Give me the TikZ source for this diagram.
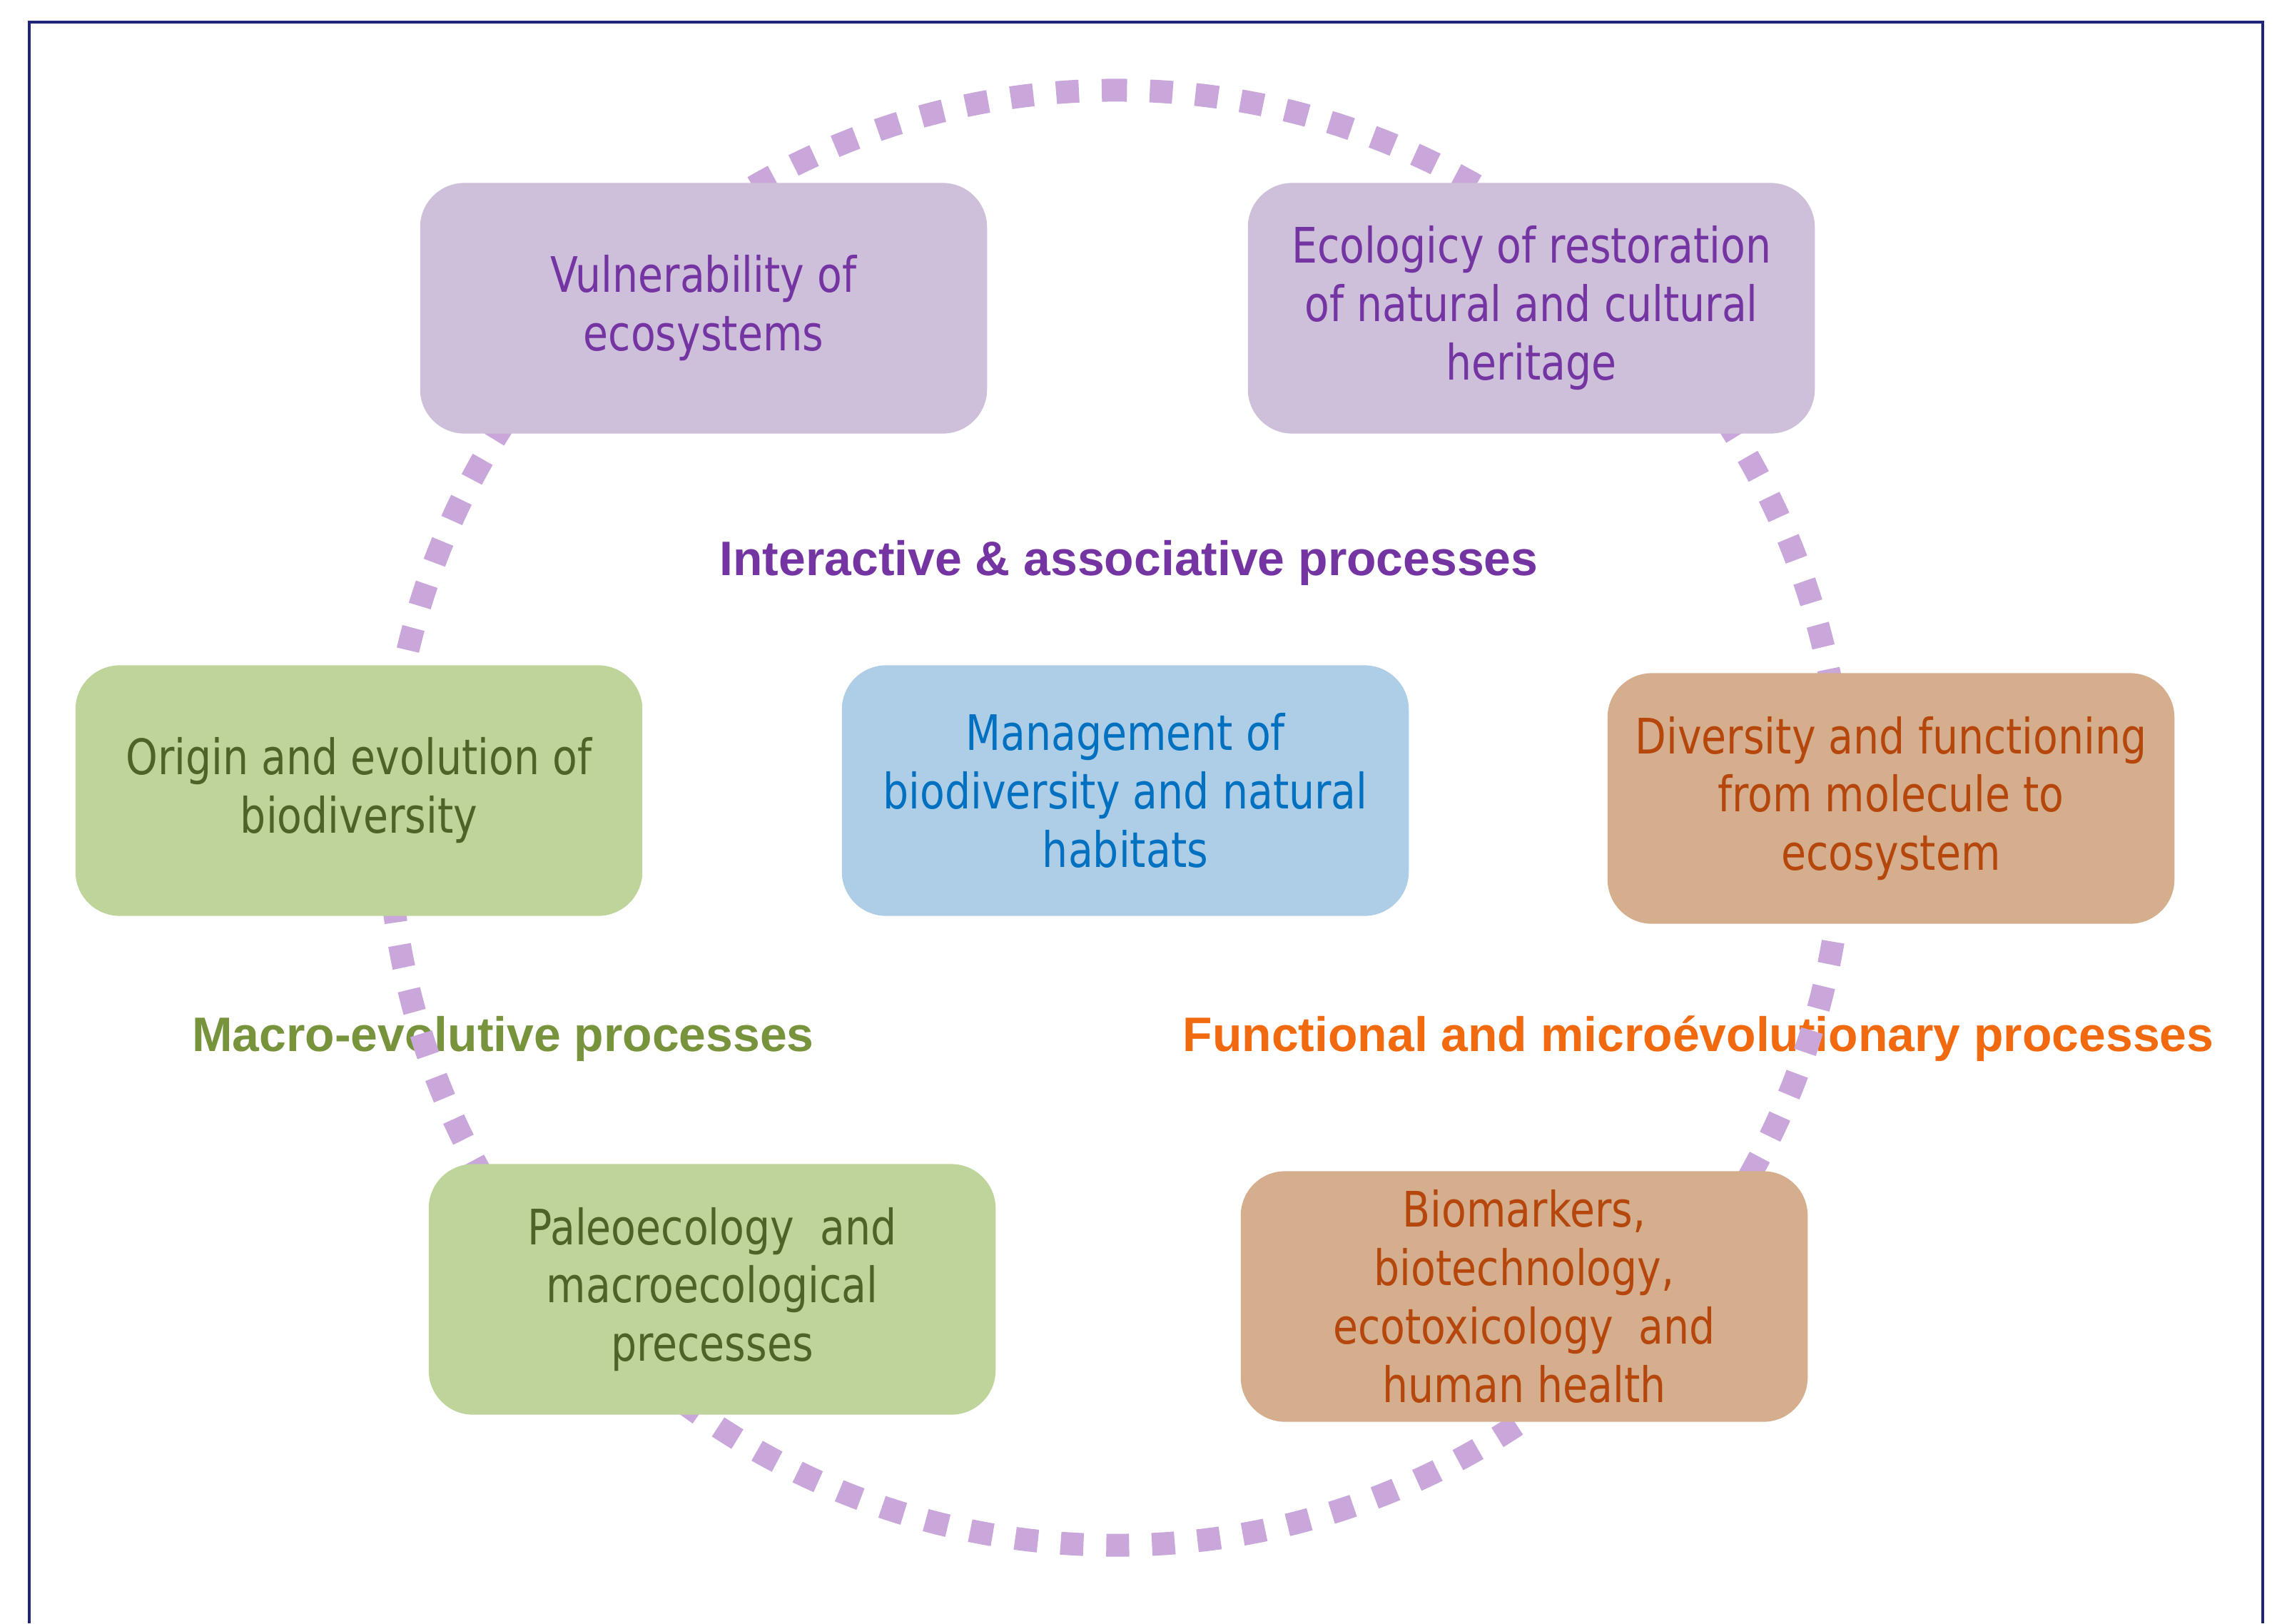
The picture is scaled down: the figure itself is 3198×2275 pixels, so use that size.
\documentclass[tikz,border=0pt]{standalone}
\usepackage{fontspec}
\newfontfamily\boxfont[FakeStretch=0.83]{DejaVu Sans}
\newfontfamily\headfont{Liberation Sans}

\definecolor{frame}{HTML}{1F2677}
\definecolor{ring}{HTML}{C9A7DB}
\definecolor{lilafill}{HTML}{CEC0DA}
\definecolor{lilatext}{HTML}{7434A2}
\definecolor{greenfill}{HTML}{BED49A}
\definecolor{greentext}{HTML}{4F6228}
\definecolor{bluefill}{HTML}{AECDE6}
\definecolor{bluetext}{HTML}{0070C0}
\definecolor{tanfill}{HTML}{D5AE8E}
\definecolor{tantext}{HTML}{B5470C}
\definecolor{greenhead}{HTML}{77933C}
\definecolor{orangehead}{HTML}{F26A10}

\tikzset{
  box/.style={rounded corners=0.62cm, minimum width=7.94cm, minimum height=3.51cm,
    align=center, font=\boxfont\fontsize{19.5}{23.3}\selectfont},
  heading/.style={font=\headfont\bfseries\fontsize{19.3}{23}\selectfont}
}

\begin{document}
\begin{tikzpicture}[x=0.01cm, y=-0.01cm]
      \useasboundingbox (0,0) rectangle (3198,2275);

      % Marco
      \fill[white] (0,0) rectangle (3198,2275);
      \draw[frame, line width=1pt] (41,2275) -- (41,31) -- (3171,31) -- (3171,2275);

      % Titulos de los procesos
      \node[heading, lilatext] (interactive) at (1582,789) {Interactive \& associative processes};
      \node[heading, greenhead] (macro) at (705,1456) {Macro-evolutive processes};
      \node[heading, orangehead] (functional) at (2380,1456) {Functional and microévolutionary processes};

      % Circulo punteado
      \coordinate (C) at (1564,1146);
      \draw[ring, line width=0.32cm, dash pattern=on 0.32cm off 0.32cm, dash phase=0.12cm]
        (C) ++(90:10.19cm) arc[start angle=90, end angle=450, radius=10.19cm];

      % Cajas
      \node[box, fill=lilafill, text=lilatext] (vulnerability) at (986,432) {Vulnerability of\\ecosystems};
      \node[box, fill=lilafill, text=lilatext] (restoration) at (2146,432) {Ecologicy of restoration\\of natural and cultural\\heritage};
      \node[box, fill=greenfill, text=greentext] (origin) at (503,1108) {Origin and evolution of\\biodiversity};
      \node[box, fill=bluefill, text=bluetext] (management) at (1577,1108) {Management of\\biodiversity and natural\\habitats};
      \node[box, fill=tanfill, text=tantext] (diversity) at (2650,1119) {Diversity and functioning\\from molecule to\\ecosystem};
      \node[box, fill=greenfill, text=greentext] (paleo) at (998,1807) {Paleoecology~~and\\macroecological\\precesses};
      \node[box, fill=tanfill, text=tantext] (biomarkers) at (2136,1817) {Biomarkers,\\biotechnology,\\ecotoxicology~~and\\human health};
\end{tikzpicture}
\end{document}
